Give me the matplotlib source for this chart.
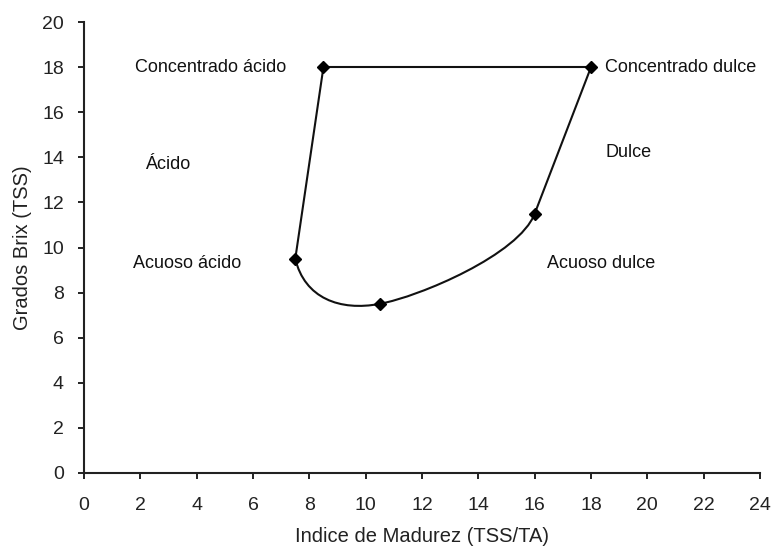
import matplotlib.pyplot as plt
from matplotlib.path import Path
from matplotlib.patches import PathPatch
import numpy as np

# points of the maturity curve (TSS/TA, TSS)
curve_x = [8.5, 7.5, 10.5, 16, 18]
curve_y = [18, 9.5, 7.5, 11.5, 18]
# straight top line
top_x = [8.5, 18]
top_y = [18, 18]

zone_labels = ["Concentrado ácido", "Concentrado dulce", "Ácido", "Dulce",
               "Acuoso ácido", "Acuoso dulce"]
zone_x = [1.8, 18.5, 2.15, 18.5, 1.75, 16.45]
zone_y = [18, 18, 13.7, 14.2, 9.3, 9.3]

plt.rcParams['font.family'] = ['Liberation Sans', 'DejaVu Sans']

fig = plt.figure(figsize=(7.73, 5.51), dpi=100)
ax = fig.add_axes([0.1087, 0.1416, 0.8745, 0.8184])

# first and last legs are straight, the lower part is smoothed
pts = np.column_stack([curve_x, curve_y]).astype(float)
n = len(pts)
verts = [pts[0], pts[1]]
codes = [Path.MOVETO, Path.LINETO]
for i in range(1, n - 2):
    p0, p1, p2, p3 = pts[i - 1], pts[i], pts[i + 1], pts[i + 2]
    c1 = p1 + (p2 - p0) / 6
    if i + 2 == n - 1:
        # join smoothly into the last straight leg
        c2 = p2 - (p3 - p2) * 0.28
    else:
        c2 = p2 - (p3 - p1) / 6
    verts += [c1, c2, p2]
    codes += [Path.CURVE4] * 3
verts.append(pts[-1])
codes.append(Path.LINETO)
ax.add_patch(PathPatch(Path(verts, codes), fill=False, edgecolor='#111111', lw=1.5))
ax.plot(top_x, top_y, color='#111111', lw=1.5)
ax.plot(curve_x, curve_y, linestyle='none', marker='D', color='black', markersize=6)

for lab, x, y in zip(zone_labels, zone_x, zone_y):
    ax.text(x, y, lab, fontsize=13, ha='left', va='center', color='#111111')

ax.set_xlim(0, 24)
ax.set_ylim(0, 20)
ax.set_xticks(range(0, 25, 2))
ax.set_yticks(range(0, 21, 2))
ax.spines['top'].set_visible(False)
ax.spines['right'].set_visible(False)
for s in ['left', 'bottom']:
    ax.spines[s].set_linewidth(1.5)
    ax.spines[s].set_color('#222222')
ax.tick_params(direction='out', length=4.5, width=1.4, labelsize=14, colors='#222222')
ax.tick_params(axis='x', pad=13)
ax.tick_params(axis='y', pad=10)
ax.set_xlabel("Indice de Madurez (TSS/TA)", fontsize=14.5, color='#222222', labelpad=9)
ax.set_ylabel("Grados Brix (TSS)", fontsize=14.5, color='#222222', labelpad=7)

plt.savefig("out.png", dpi=100)
